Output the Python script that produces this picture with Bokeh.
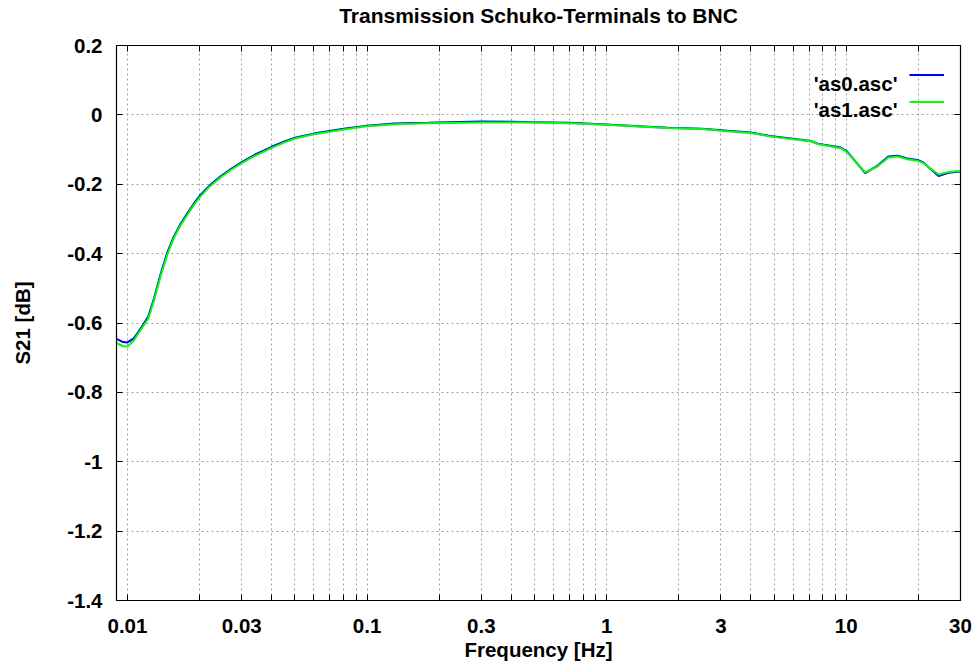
from bokeh.plotting import figure
from bokeh.models import FixedTicker, LogAxis, LinearAxis, Legend, LegendItem, Label, Range1d
from bokeh.core.properties import value
from bokeh.embed import file_html
from bokeh.resources import INLINE

title_text = "Transmission Schuko-Terminals to BNC"
x_label = "Frequency [Hz]"
y_label = "S21 [dB]"
series_names = ["'as0.asc'", "'as1.asc'"]

freq = [0.009, 0.0096, 0.01, 0.0106, 0.011, 0.0116, 0.0122, 0.0129, 0.0138, 0.0147,
        0.0156, 0.0167, 0.0179, 0.019, 0.02, 0.022, 0.0245, 0.027, 0.03, 0.034,
        0.04, 0.045, 0.05, 0.06, 0.08, 0.1, 0.13, 0.18, 0.3, 0.4,
        0.5, 0.7, 0.95, 1.3, 1.8, 2.5, 3.2, 4.0, 4.8, 6.0,
        7.1, 7.6, 9.5, 10.1, 12.0, 13.5, 15.0, 16.4, 18.0, 19.8,
        21.0, 24.3, 26.7, 30.0]
as0 = [-0.646, -0.655, -0.656, -0.645, -0.630, -0.606, -0.582, -0.530, -0.455, -0.395,
       -0.352, -0.313, -0.281, -0.254, -0.234, -0.204, -0.177, -0.156, -0.136, -0.115,
       -0.092, -0.077, -0.066, -0.054, -0.040, -0.031, -0.025, -0.023, -0.019, -0.020,
       -0.021, -0.023, -0.027, -0.032, -0.037, -0.040, -0.046, -0.051, -0.061, -0.069,
       -0.075, -0.083, -0.094, -0.106, -0.168, -0.147, -0.120, -0.118, -0.126, -0.130,
       -0.137, -0.176, -0.167, -0.163]
as1 = [-0.658, -0.667, -0.668, -0.652, -0.634, -0.610, -0.588, -0.536, -0.461, -0.401,
       -0.356, -0.317, -0.285, -0.258, -0.238, -0.207, -0.180, -0.159, -0.139, -0.118,
       -0.095, -0.080, -0.068, -0.056, -0.042, -0.033, -0.027, -0.024, -0.022, -0.022,
       -0.022, -0.024, -0.028, -0.033, -0.038, -0.041, -0.047, -0.052, -0.062, -0.070,
       -0.076, -0.084, -0.096, -0.108, -0.166, -0.149, -0.123, -0.120, -0.128, -0.132,
       -0.139, -0.172, -0.165, -0.162]

x_major = [0.01, 0.03, 0.1, 0.3, 1, 3, 10, 30]
x_major_labels = ["0.01", "0.03", "0.1", "0.3", "1", "3", "10", "30"]
x_minor = [0.02, 0.04, 0.05, 0.06, 0.07, 0.08, 0.09,
           0.2, 0.4, 0.5, 0.6, 0.7, 0.8, 0.9,
           2, 4, 5, 6, 7, 8, 9, 20]
y_ticks = [-1.4, -1.2, -1.0, -0.8, -0.6, -0.4, -0.2, 0.0, 0.2]
y_tick_labels = ["-1.4", "-1.2", "-1", "-0.8", "-0.6", "-0.4", "-0.2", "0", "0.2"]

FONT = "Liberation Sans"
FS = "20.5px"
GRID = "#a0a0a0"

p = figure(width=973, height=666, x_axis_type="log", title=None,
           x_range=Range1d(0.009, 30), y_range=Range1d(-1.4, 0.2),
           output_backend="svg", toolbar_location=None,
           min_border_left=116, min_border_right=13, min_border_top=44, min_border_bottom=66)

p.background_fill_color = "white"
p.border_fill_color = "white"
p.outline_line_color = "black"
p.outline_line_width = 1.2

xt = FixedTicker(ticks=x_major, minor_ticks=x_minor)
yt = FixedTicker(ticks=y_ticks)

xa = p.xaxis[0]
xa.ticker = xt
xa.major_label_overrides = dict(zip(x_major, x_major_labels))
ya = p.yaxis[0]
ya.ticker = yt
ya.major_label_overrides = dict(zip(y_ticks, y_tick_labels))

# mirrored ticks on top (carrying the title) and right
top = LogAxis(ticker=xt, major_label_text_font_size="0px", major_label_standoff=0,
              major_label_overrides={t: "" for t in x_major})
right = LinearAxis(ticker=yt, major_label_text_font_size="0px", major_label_standoff=0,
                   major_label_overrides={t: "" for t in y_ticks})
p.add_layout(top, "above")
p.add_layout(right, "right")

for ax in (xa, ya, top, right):
    ax.major_tick_in = 6
    ax.major_tick_out = 0
    ax.minor_tick_in = 6
    ax.minor_tick_out = 0
    ax.major_tick_line_color = "black"
    ax.minor_tick_line_color = "black"
    ax.axis_line_color = "black"
    ax.major_label_text_font = FONT
    ax.major_label_text_font_style = "bold"
    ax.major_label_text_color = "black"
    ax.axis_label_text_font = FONT
    ax.axis_label_text_font_size = FS
    ax.axis_label_text_font_style = "bold"
    ax.axis_label_text_color = "black"
for ax in (xa, ya):
    ax.major_label_text_font_size = FS
for ax in (ya, right):
    ax.minor_tick_in = 0

xa.axis_label = x_label
xa.major_label_standoff = 18
xa.axis_label_standoff = 2
ya.axis_label = y_label
ya.major_label_standoff = 14
ya.axis_label_standoff = 30
top.axis_label = title_text
top.axis_label_text_font_size = "21px"
top.axis_label_standoff = 19

p.xgrid.ticker = xt
p.ygrid.ticker = yt
for g in (p.xgrid, p.ygrid):
    g.grid_line_color = GRID
    g.grid_line_dash = "2 3"
    g.grid_line_width = 1
p.xgrid.minor_grid_line_color = GRID
p.xgrid.minor_grid_line_dash = "2 3"
p.xgrid.minor_grid_line_width = 1

r0 = p.line(freq, as0, line_color="#0000ff", line_width=2)
r1 = p.line(freq, as1, line_color="#00ff00", line_width=2)

legend = Legend(items=[LegendItem(label=value(" "), renderers=[r0]),
                       LegendItem(label=value(" "), renderers=[r1])],
                location="top_right", glyph_width=35, glyph_height=27, label_height=27,
                label_width=0, label_standoff=0, spacing=0, padding=0, margin=16,
                label_text_font_size="1px", border_line_color=None, background_fill_alpha=0)
p.add_layout(legend)

for i, name in enumerate(series_names):
    p.add_layout(Label(x=781, y=517 - 26 * i, x_units="screen", y_units="screen", text=name,
                       text_align="right", text_baseline="alphabetic", text_font=FONT,
                       text_font_size=FS, text_font_style="bold", text_color="black"))

open("out.html", "w").write(file_html(p, INLINE))
